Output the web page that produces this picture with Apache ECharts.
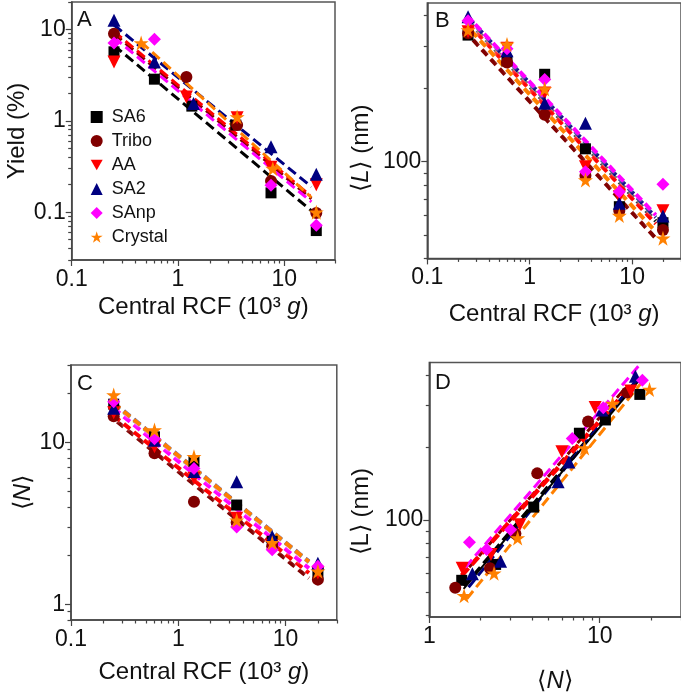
<!DOCTYPE html>
<html><head><meta charset="utf-8">
<script src="https://cdn.jsdelivr.net/npm/echarts@6/dist/echarts.min.js"></script>
<style>html,body{margin:0;padding:0;background:#fff}#c{width:681px;height:694px}</style>
</head><body><div id="c"></div>
<script>
// ---------- data ----------
const seriesNames = ['SA6', 'Tribo', 'AA', 'SA2', 'SAnp', 'Crystal'];
const seriesColors = ['#000000', '#800000', '#ff0000', '#000080', '#ff00ff', '#ff8000'];

const rcf = [0.25, 0.6, 1.4, 3.5, 7.5, 20];           // central RCF (10^3 g)

// Panel A: yield (%) as [RCF, yield]
const yieldSA6     = [[0.25, 5.7], [0.6, 2.86], [1.35, 1.45], [3.5, 0.9], [7.5, 0.163], [20, 0.063]];
const yieldTribo   = [[0.25, 9.0], [1.2, 3.02], [3.6, 0.9], [7.5, 0.22], [20, 0.098]];
const yieldAA      = [[0.25, 4.4], [1.2, 1.82], [3.6, 1.08], [7.5, 0.31], [20, 0.2]];
const yieldSA2     = [[0.25, 12.6], [0.6, 4.4], [1.4, 1.55], [7.5, 0.52], [20, 0.26]];
const yieldSAnp    = [[0.25, 7.1], [0.6, 7.8], [7.5, 0.197], [20, 0.072]];
const yieldCrystal = [[0.45, 7.1], [3.6, 1.1], [7.8, 0.3], [20, 0.1]];

// Panel B: <L> (nm) at each RCF
const lenSA6     = [332, 260, 229, 113, 65.3, 56.1];
const lenTribo   = [338, 256, 156, 87.5, 62.9, 52.3];
const lenAA      = [343, 293, 192, 95.4, 71.8, 62.9];
const lenSA2     = [395, 286, 174, 144, 67.4, 59.8];
const lenSAnp    = [380, 292, 218, 91, 75.3, 80.7];
const lenCrystal = [348, 304, 199, 84, 60, 48.4];

// Panel C: <N> at each RCF
const numSA6     = [17.2, 10.8, 7.6, 4.1, 2.45, 1.55];
const numTribo   = [14.5, 8.55, 4.3, 3.2, 2.27, 1.42];
const numAA      = [15.2, 9.4, 6.0, 3.4, 2.3, 1.56];
const numSA2     = [16.2, 10.3, 6.6, 5.7, 2.62, 1.79];
const numSAnp    = [17.8, 10.5, 6.9, 3.0, 2.17, 1.72];
const numCrystal = [19.6, 11.9, 8.15, 3.3, 2.4, 1.6];

// Power-law fit lines (end points)
const fitA_SA6 = [[0.25, 6.7], [18.7, 0.1]];
const fitA_Tribo = [[0.25, 9.0], [18, 0.14]];
const fitA_AA = [[0.25, 9.5], [17.5, 0.153]];
const fitA_SA2 = [[0.25, 11.2], [18, 0.19]];
const fitA_SAnp = [[0.25, 8.2], [18, 0.13]];
const fitA_Crystal = [[0.45, 7.3], [18, 0.145]];

const fitB_SA6 = [[0.25, 380], [17, 57]];
const fitB_Tribo = [[0.28, 317], [17, 48.4]];
const fitB_AA = [[0.25, 370], [17, 55.5]];
const fitB_SA2 = [[0.25, 392], [17, 59]];
const fitB_SAnp = [[0.24, 402], [17, 60.3]];
const fitB_Crystal = [[0.27, 345], [17, 51.5]];

const fitC_SA6 = [[0.25, 17.2], [16.5, 1.82]];
const fitC_Tribo = [[0.27, 13.4], [16.5, 1.45]];
const fitC_AA = [[0.25, 14.6], [16.5, 1.56]];
const fitC_SA2 = [[0.25, 17.5], [16.5, 1.84]];
const fitC_SAnp = [[0.25, 16.2], [16.5, 1.67]];
const fitC_Crystal = [[0.25, 17.4], [16.5, 1.83]];

const fitD_SA6 = [[1.6, 53], [16.5, 380]];
const fitD_Tribo = [[1.5, 57], [14, 350]];
const fitD_AA = [[1.55, 58.7], [15, 355]];
const fitD_SA2 = [[1.7, 52.5], [16.8, 388]];
const fitD_SAnp = [[1.63, 63.6], [17.6, 450]];
const fitD_Crystal = [[1.66, 47], [17.5, 370]];
const fitD_all = [[1.59, 51.7], [16.8, 375]];

// axis ranges and labelled ticks
const rangeRCF = [0.1, 30];
const rangeYield = [0.03, 20];
const rangeLen = [40, 450];
const rangeNum = [0.8, 30];
const rangeNumD = [1, 30];
const rangeLenD = [39.5, 450];
const ticksRCF = [0.1, 1, 10];
const ticksYield = [0.1, 1, 10];
const ticksLen = [100];
const ticksNum = [1, 10];

// ---------- build ----------
const lg = Math.log10;
const FONT = '"Liberation Sans", Arial, sans-serif';
const TXT = '#111';

const yieldSets = [yieldSA6, yieldTribo, yieldAA, yieldSA2, yieldSAnp, yieldCrystal];
const lenSets = [lenSA6, lenTribo, lenAA, lenSA2, lenSAnp, lenCrystal];
const numSets = [numSA6, numTribo, numAA, numSA2, numSAnp, numCrystal];
const fitA = [fitA_SA6, fitA_Tribo, fitA_AA, fitA_SA2, fitA_SAnp, fitA_Crystal];
const fitB = [fitB_SA6, fitB_Tribo, fitB_AA, fitB_SA2, fitB_SAnp, fitB_Crystal];
const fitC = [fitC_SA6, fitC_Tribo, fitC_AA, fitC_SA2, fitC_SAnp, fitC_Crystal];
const fitD = [fitD_SA6, fitD_Tribo, fitD_AA, fitD_SA2, fitD_SAnp, fitD_Crystal];

const symbols = ['rect', 'circle', 'path://M0,0L20,0L10,17.32Z', 'triangle', 'diamond',
  'path://M10,0.5L12.25,7.41L19.51,7.41L13.63,11.68L15.88,18.59L10,14.32L4.12,18.59L6.37,11.68L0.49,7.41L7.75,7.41Z'];
const symSizes = [11, 12, 13, 13, 13, 15];

function fmt(v) { return String(parseFloat(Math.pow(10, v).toPrecision(4))); }
function minorTicks(lo, hi) {
  const out = [];
  for (let e = Math.floor(lg(lo)) - 1; e <= Math.ceil(lg(hi)); e++) {
    for (let m = 2; m < 10; m++) {
      const v = m * Math.pow(10, e);
      if (v >= lo * 0.999 && v <= hi * 1.001) out.push(lg(v));
    }
  }
  return out;
}
function nameStyle(size, extra) {
  return Object.assign({
    fontSize: size, fontFamily: FONT, color: TXT,
    rich: { it: { fontStyle: 'italic', fontSize: size, fontFamily: FONT, color: TXT } }
  }, extra || {});
}
function axisPair(kind, grid, range, majors, name, nameGap, nameExtra) {
  const base = {
    type: 'value', gridIndex: grid, min: lg(range[0]), max: lg(range[1]),
    position: kind === 'x' ? 'bottom' : 'left', splitLine: { show: false }
  };
  const major = Object.assign({}, base, {
    axisLine: { show: true, onZero: false, lineStyle: { color: '#444', width: 1.5 } },
    axisTick: { show: true, inside: false, length: 6, lineStyle: { color: '#444', width: 1.2 }, customValues: majors.map(lg) },
    axisLabel: { show: true, customValues: majors.map(lg), formatter: fmt, fontSize: 23, fontFamily: FONT, color: TXT, margin: kind === 'x' ? 8 : 6 },
    name: name, nameLocation: 'middle', nameGap: nameGap, nameTextStyle: nameStyle(24, nameExtra)
  });
  const minor = Object.assign({}, base, {
    axisLine: { show: false, onZero: false }, axisLabel: { show: false },
    axisTick: { show: true, inside: false, length: 3.5, lineStyle: { color: '#444', width: 1.2 }, customValues: minorTicks(range[0], range[1]) }
  });
  return [major, minor];
}

const grids = [
  { left: 71.7, top: 2, width: 263.3, height: 258 },
  { left: 427.3, top: 3, width: 265.5, height: 255.4 },
  { left: 71, top: 365, width: 265.8, height: 255 },
  { left: 429.3, top: 362.6, width: 261.9, height: 255.7 }
].map(g => Object.assign(g, { show: true, borderColor: '#555', borderWidth: 1.5, containLabel: false }));

const RCFNAME = 'Central RCF (10³ {it|g})';
const xAxes = [].concat(
  axisPair('x', 0, rangeRCF, ticksRCF, RCFNAME, 35),
  axisPair('x', 1, rangeRCF, ticksRCF, RCFNAME, 44),
  axisPair('x', 2, rangeRCF, ticksRCF, RCFNAME, 40),
  axisPair('x', 3, rangeNumD, ticksNum, '⟨{it|N}⟩', 52)
);
const yAxes = [].concat(
  axisPair('y', 0, rangeYield, ticksYield, 'Yield (%)', 34),
  axisPair('y', 1, rangeLen, ticksLen, '⟨{it|L}⟩ (nm)', 54, { padding: [0, 35, 0, 0] }),
  axisPair('y', 2, rangeNum, ticksNum, '⟨{it|N}⟩', 33),
  axisPair('y', 3, rangeLenD, ticksLen, '⟨L⟩ (nm)', 56, { padding: [0, 44, 0, 0] })
);

const series = [];
function addLine(panel, pts, i, style) {
  series.push({
    type: 'line', name: seriesNames[i] + ' fit', xAxisIndex: panel * 2, yAxisIndex: panel * 2,
    data: pts.map(p => [lg(p[0]), lg(p[1])]), symbol: 'none', silent: true, z: 1,
    lineStyle: Object.assign({ color: seriesColors[i], width: 3, type: [10, 5], cap: 'butt' }, style || {})
  });
}
function addScatter(panel, pts, i) {
  series.push({
    type: 'scatter', name: seriesNames[i], xAxisIndex: panel * 2, yAxisIndex: panel * 2,
    data: pts.map(p => [lg(p[0]), lg(p[1])]), symbol: symbols[i], symbolSize: symSizes[i], z: 3,
    itemStyle: { color: seriesColors[i], opacity: 1 }
  });
}
const halo = { shadowColor: '#ffffff', shadowBlur: 3 };
for (let i = 0; i < 6; i++) {
  addLine(0, fitA[i], i);
  addLine(1, fitB[i], i, Object.assign({ width: 4, type: [8, 5] }, halo));
  addLine(2, fitC[i], i, Object.assign({ width: 4, type: [8, 5] }, halo));
  addLine(3, fitD[i], i, i === 2 ? { width: 4.5 } : {});
}
series.push({
  type: 'line', name: 'All fit', xAxisIndex: 6, yAxisIndex: 6, data: fitD_all.map(p => [lg(p[0]), lg(p[1])]),
  symbol: 'none', silent: true, z: 1, lineStyle: { color: '#000', width: 2, type: 'solid' }
});
for (let i = 0; i < 6; i++) {
  addScatter(0, yieldSets[i], i);
  addScatter(1, rcf.map((x, k) => [x, lenSets[i][k]]), i);
  addScatter(2, rcf.map((x, k) => [x, numSets[i][k]]), i);
  addScatter(3, numSets[i].map((n, k) => [n, lenSets[i][k]]), i);
}

function letter(t, x, y) {
  return { type: 'text', left: x, top: y, z: 10, style: { text: t, font: '22px ' + FONT, fill: TXT } };
}

const option = {
  animation: false,
  backgroundColor: '#fff',
  grid: grids,
  xAxis: xAxes,
  yAxis: yAxes,
  legend: {
    data: seriesNames, orient: 'vertical', left: 90.7, top: 108, padding: 0,
    itemWidth: 12, itemHeight: 12, itemGap: 6,
    textStyle: { fontSize: 18, fontFamily: FONT, color: TXT, padding: [0, 0, 0, 4] }
  },
  graphic: [letter('A', 77, 9), letter('B', 435, 10), letter('C', 77, 373), letter('D', 435, 372)],
  series: series
};
const chart = echarts.init(document.getElementById('c'), null, { renderer: 'canvas' });
chart.setOption(option);
</script>
</body></html>
